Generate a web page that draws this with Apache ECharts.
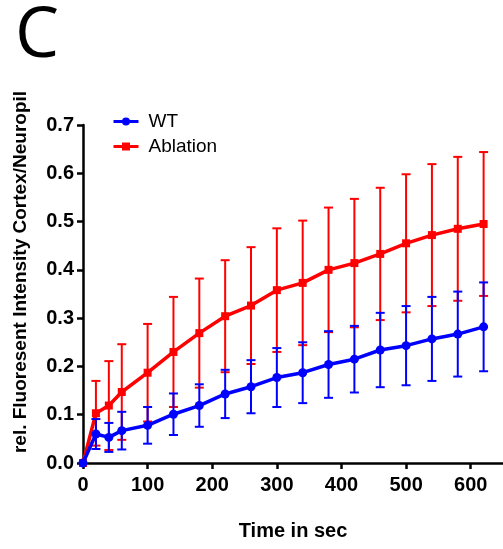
<!DOCTYPE html>
<html>
<head>
<meta charset="utf-8">
<script src="https://cdn.jsdelivr.net/npm/echarts@6/dist/echarts.min.js"></script>
<style>html,body{margin:0;padding:0;background:#fff}#c{width:503px;height:549px}</style>
</head>
<body>
<div id="c"></div>
<script>
// ---- data ----
var times = [0, 20, 40, 60, 100, 140, 180, 220, 260, 300, 340, 380, 420, 460, 500, 540, 580, 620];
var wtMean = [0, 0.060, 0.053, 0.067, 0.078, 0.101, 0.119, 0.143, 0.158, 0.177, 0.187, 0.204, 0.215, 0.234, 0.243, 0.257, 0.267, 0.282];
var wtErr  = [0, 0.031, 0.030, 0.039, 0.038, 0.043, 0.044, 0.050, 0.055, 0.061, 0.063, 0.069, 0.069, 0.077, 0.082, 0.087, 0.088, 0.092];
var ablMean = [0, 0.103, 0.119, 0.147, 0.187, 0.230, 0.269, 0.304, 0.326, 0.358, 0.373, 0.400, 0.414, 0.433, 0.455, 0.472, 0.485, 0.495];
var ablErr  = [0, 0.067, 0.092, 0.099, 0.101, 0.114, 0.113, 0.116, 0.121, 0.128, 0.129, 0.129, 0.133, 0.137, 0.143, 0.147, 0.149, 0.149];
var xTicks = [0, 100, 200, 300, 400, 500, 600];
var yTicks = [0, 0.1, 0.2, 0.3, 0.4, 0.5, 0.6, 0.7];
var seriesNames = ['WT', 'Ablation'];
var xTitle = 'Time in sec';
var yTitle = 'rel. Fluoresent Intensity Cortex/Neuropil';
var panelLabel = 'C';

var BLUE = '#0000ff', RED = '#ff0000';
var FONT = 'Liberation Sans';

function pairs(m){ return times.map(function(t,i){ return [t, m[i]]; }); }
function triples(m,e){ return times.map(function(t,i){ return [t, m[i], e[i]]; }); }

function errRender(color){
  return function(params, api){
    var x = api.value(0), m = api.value(1), e = api.value(2);
    if (!e) return null;
    var top = api.coord([x, m + e]);
    var bot = api.coord([x, m - e]);
    var hw = 4.5;
    var st = {stroke: color, lineWidth: 2};
    return {type:'group', children:[
      {type:'line', shape:{x1:top[0], y1:top[1], x2:bot[0], y2:bot[1]}, style:st},
      {type:'line', shape:{x1:top[0]-hw, y1:top[1], x2:top[0]+hw, y2:top[1]}, style:st},
      {type:'line', shape:{x1:bot[0]-hw, y1:bot[1], x2:bot[0]+hw, y2:bot[1]}, style:st}
    ]};
  };
}

var chart = echarts.init(document.getElementById('c'), null, {renderer:'canvas'});
chart.setOption({
  animation: false,
  backgroundColor: '#fff',
  grid: {left: 83, top: 125, width: 422, height: 338, containLabel: false},
  legend: {
    data: seriesNames,
    orient: 'vertical',
    left: 112, top: 112,
    padding: 0,
    itemWidth: 25, itemHeight: 10, itemGap: 6,
    lineStyle: {width: 3},
    textStyle: {fontFamily: FONT, fontSize: 19, color: '#000', padding: [0,0,0,5], lineHeight: 19}
  },
  xAxis: {
    type: 'value', min: 0, max: 650,
    name: xTitle, nameLocation: 'middle', nameGap: 58,
    nameTextStyle: {fontFamily: FONT, fontSize: 20, fontWeight: 'bold', color: '#000'},
    axisLine: {lineStyle: {color: '#000', width: 2.5}},
    axisTick: {show: true, length: 6, lineStyle: {color: '#000', width: 2.5}, customValues: xTicks},
    axisLabel: {fontFamily: FONT, fontSize: 20, fontWeight: 'bold', color: '#000', margin: 12, customValues: xTicks},
    splitLine: {show: false}
  },
  yAxis: {
    type: 'value', min: 0, max: 0.7, interval: 0.1,
    axisLine: {show: true, lineStyle: {color: '#000', width: 2.5}},
    axisTick: {show: true, length: 6, lineStyle: {color: '#000', width: 2.5}, customValues: yTicks},
    axisLabel: {fontFamily: FONT, fontSize: 20, fontWeight: 'bold', color: '#000', margin: 9, customValues: yTicks,
      formatter: function(v){ return v.toFixed(1); }},
    splitLine: {show: false}
  },
  graphic: [
    {type:'text', x: 21, y: 272, rotation: Math.PI/2,
     style:{text: yTitle, fontFamily: FONT, fontSize: 19, fontWeight: 'bold', fill:'#000', align:'center', verticalAlign:'middle'}},
    {type:'text', x: 15, y: 37,
     style:{text: panelLabel, fontFamily: 'Open Sans', fontSize: 70, fill:'#000', align:'left', verticalAlign:'middle'}}
  ],
  series: [
    {type:'line', name:'Ablation', data: pairs(ablMean), color: RED, symbol:'rect', symbolSize: 8,
     lineStyle:{width:3.5, color: RED}, itemStyle:{color: RED}, z: 3, clip: false},
    {type:'line', name:'WT', data: pairs(wtMean), color: BLUE, symbol:'circle', symbolSize: 9,
     lineStyle:{width:3.5, color: BLUE}, itemStyle:{color: BLUE}, z: 5, clip: false},
    {type:'custom', name:'Ablation', data: triples(ablMean, ablErr), renderItem: errRender(RED), itemStyle:{color: RED}, z: 2, clip: false, encode:{x:0, y:1}, silent: true},
    {type:'custom', name:'WT', data: triples(wtMean, wtErr), renderItem: errRender(BLUE), itemStyle:{color: BLUE}, z: 4, clip: false, encode:{x:0, y:1}, silent: true}
  ]
});
</script>
</body>
</html>
